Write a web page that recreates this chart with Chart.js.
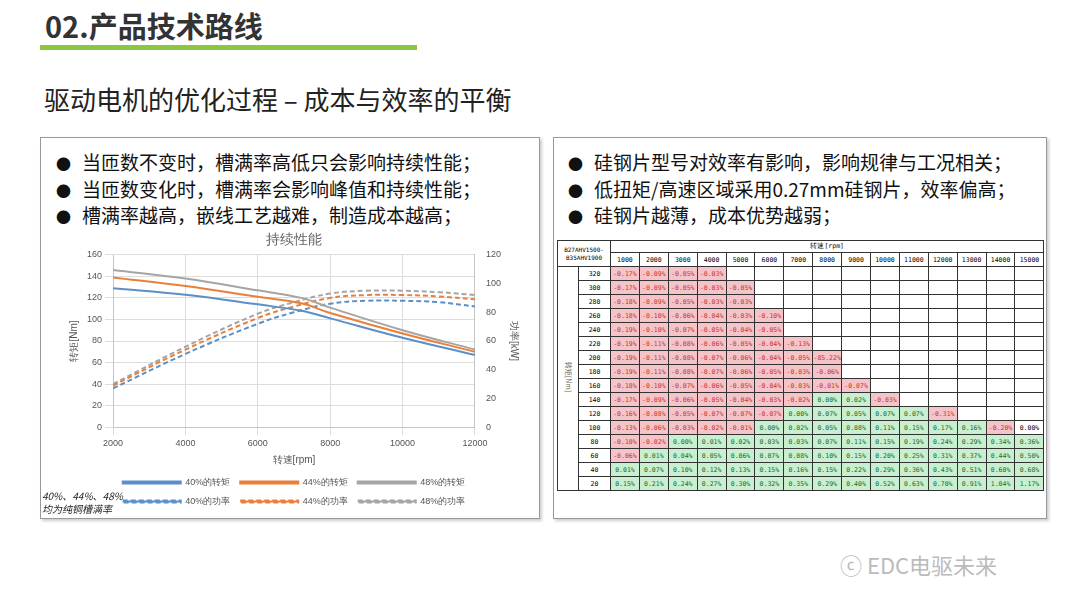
<!DOCTYPE html>
<html>
<head>
<meta charset="utf-8">
<script src="https://cdn.jsdelivr.net/npm/chart.js@4/dist/chart.umd.min.js"></script>
<style>
	body { margin: 0; width: 1080px; height: 608px; background: #fff; font-family: "Noto Sans CJK SC", "Noto Sans", sans-serif; position: relative; overflow: hidden; }
	.abs { position: absolute; }
	.title { left: 45px; top: 4px; font-size: 29px; font-weight: bold; color: #333; }
	.bar { left: 40px; top: 45px; width: 377px; height: 5px; background: #8dc63f; }
	.sub { left: 44px; top: 80px; font-size: 26px; color: #222; }
	.panel { border: 1px solid #999; box-shadow: 2px 2px 3px #ccc; background: #fff; }
	ul { margin: 0; padding: 0; list-style: none; }
	li { font-size: 19px; line-height: 24.5px; color: #111; }
	li:before { content: "●"; display: inline-block; width: 34px; font-size: 15px; padding-left: 8px; box-sizing: border-box; }
	table { border-collapse: collapse; font-family: "DejaVu Sans Mono", monospace; font-size: 6.5px; table-layout: fixed; }
	td { border: 1px solid #333; height: 13px; padding: 0; text-align: center; white-space: nowrap; overflow: hidden; }
	.neg { background: #f6c3c9; color: #c0392b; }
	.pos { background: #c8efcf; color: #1d6b2e; }
	.note { left: 42px; top: 489px; font-size: 10px; font-style: italic; color: #222; line-height: 13px; }
	.wm { left: 840px; top: 548px; font-size: 22px; color: #bbb; }
</style>
</head>
<body>
<div class="abs title">02.产品技术路线</div>
<div class="abs bar"></div>
<div class="abs sub">驱动电机的优化过程 – 成本与效率的平衡</div>

<div class="abs panel" style="left:40px;top:137px;width:498px;height:380px;"></div>
<div class="abs panel" style="left:553px;top:137px;width:492px;height:380px;"></div>

<ul class="abs" style="left:48px;top:150px;">
	<li>当匝数不变时，槽满率高低只会影响持续性能；</li>
	<li>当匝数变化时，槽满率会影响峰值和持续性能；</li>
	<li>槽满率越高，嵌线工艺越难，制造成本越高；</li>
</ul>
<ul class="abs" style="left:560px;top:150px;">
	<li>硅钢片型号对效率有影响，影响规律与工况相关；</li>
	<li>低扭矩/高速区域采用0.27mm硅钢片，效率偏高；</li>
	<li>硅钢片越薄，成本优势越弱；</li>
</ul>

<div class="abs" style="left:64px;top:232px;width:460px;height:284px;">
	<canvas id="lc"></canvas>
</div>
<div class="abs note">40%、44%、48%<br>均为纯铜槽满率</div>

<div class="abs" id="tbl" style="left:557px;top:240px;"></div>
<div class="abs" style="left:554px;top:372px;font-size:7px;color:#666;transform:rotate(90deg);">转矩[Nm]</div>

<div class="abs wm">ⓒ EDC电驱未来</div>

<script>
// torque curves (Nm)
const rpmT = [2000, 4000, 6000, 7200, 8000, 10000, 12000];
const torque40 = [129, 123, 114, 108, 101, 83, 67];
const torque44 = [139, 131, 121, 115, 106, 87, 70];
const torque48 = [146, 138, 127, 120, 111, 90, 72];
// power curves (kW)
const rpmP = [2000, 4000, 6000, 7000, 8000, 9000, 10000, 11000, 12000];
const power40 = [27, 51, 72, 80, 86, 88, 88, 87, 84];
const power44 = [29, 54, 76, 84, 90, 92, 92, 91, 89];
const power48 = [30, 56, 79, 87, 93, 95, 95, 94, 92];

// efficiency difference table (%)
const speedCols = [1000, 2000, 3000, 4000, 5000, 6000, 7000, 8000, 9000, 10000, 11000, 12000, 13000, 14000, 15000];
const torqueRows = [320, 300, 280, 260, 240, 220, 200, 180, 160, 140, 120, 100, 80, 60, 40, 20];
const effDiff = [
	[-0.17, -0.09, -0.05, -0.03],
	[-0.17, -0.09, -0.05, -0.03, -0.05],
	[-0.18, -0.09, -0.05, -0.03, -0.03],
	[-0.18, -0.10, -0.06, -0.04, -0.03, -0.10],
	[-0.19, -0.10, -0.07, -0.05, -0.04, -0.05],
	[-0.19, -0.11, -0.08, -0.06, -0.05, -0.04, -0.13],
	[-0.19, -0.11, -0.08, -0.07, -0.06, -0.04, -0.05, -85.22],
	[-0.19, -0.11, -0.08, -0.07, -0.06, -0.05, -0.03, -0.06],
	[-0.18, -0.10, -0.07, -0.06, -0.05, -0.04, -0.03, -0.01, -0.07],
	[-0.17, -0.09, -0.06, -0.05, -0.04, -0.03, -0.02, 0.00, 0.02, -0.03],
	[-0.16, -0.08, -0.05, -0.07, -0.07, -0.07, 0.00, 0.07, 0.05, 0.07, 0.07, -0.31],
	[-0.13, -0.06, -0.03, -0.02, -0.01, 0.00, 0.02, 0.05, 0.08, 0.11, 0.15, 0.17, 0.16, -0.20, 0.00],
	[-0.10, -0.02, 0.00, 0.01, 0.02, 0.03, 0.03, 0.07, 0.11, 0.15, 0.19, 0.24, 0.29, 0.34, 0.36],
	[-0.06, 0.01, 0.04, 0.05, 0.06, 0.07, 0.08, 0.10, 0.15, 0.20, 0.25, 0.31, 0.37, 0.44, 0.50],
	[0.01, 0.07, 0.10, 0.12, 0.13, 0.15, 0.16, 0.15, 0.22, 0.29, 0.36, 0.43, 0.51, 0.60, 0.68],
	[0.15, 0.21, 0.24, 0.27, 0.30, 0.32, 0.35, 0.29, 0.40, 0.52, 0.63, 0.70, 0.91, 1.04, 1.17]
];

const pts = (xs, ys) => xs.map((x, i) => ({ x: x, y: ys[i] }));
const blue = "#5b8fc7", orange = "#e8803a", grey = "#a5a5a5";
const line = (label, xs, ys, color, axis, dashed) => ({
	label: label,
	data: pts(xs, ys),
	borderColor: color,
	backgroundColor: color,
	borderWidth: 2,
	borderDash: dashed ? [5, 3] : [],
	pointRadius: 0,
	tension: 0.4,
	yAxisID: axis,
});

new Chart(document.getElementById("lc"), {
	type: "line",
	data: {
		datasets: [
			line("40%的转矩", rpmT, torque40, blue, "y", false),
			line("44%的转矩", rpmT, torque44, orange, "y", false),
			line("48%的转矩", rpmT, torque48, grey, "y", false),
			line("40%的功率", rpmP, power40, blue, "y1", true),
			line("44%的功率", rpmP, power44, orange, "y1", true),
			line("48%的功率", rpmP, power48, grey, "y1", true),
		],
	},
	options: {
		responsive: true,
		maintainAspectRatio: false,
		animation: false,
		layout: { padding: 0 },
		scales: {
			x: {
				type: "linear", min: 2000, max: 12000,
				ticks: { stepSize: 2000, color: "#555", font: { size: 9 }, callback: (v) => String(v) },
				grid: { color: "#ddd" },
				title: { display: true, text: "转速[rpm]", color: "#555", font: { size: 10 }, padding: 2 },
			},
			y: {
				min: 0, max: 160,
				ticks: { stepSize: 20, color: "#555", font: { size: 9 } },
				grid: { color: "#ddd" },
				title: { display: true, text: "转矩[Nm]", color: "#555", font: { size: 10 } },
			},
			y1: {
				position: "right", min: 0, max: 120,
				ticks: { stepSize: 20, color: "#555", font: { size: 9 } },
				grid: { display: false },
				title: { display: true, text: "功率[kW]", color: "#555", font: { size: 10 } },
			},
		},
		plugins: {
			title: { display: true, text: "持续性能", color: "#666", font: { size: 14, weight: "normal" }, padding: { top: 0, bottom: 6 } },
			legend: {
				position: "bottom",
				labels: { boxWidth: 58, boxHeight: 2, color: "#555", font: { size: 9 }, padding: 10 },
			},
			tooltip: { enabled: false },
		},
	},
});

// build the table
let html = '<table style="width:486px"><colgroup><col style="width:21px"><col style="width:32px">';
speedCols.forEach(() => (html += '<col style="width:28.9px">'));
html += "</colgroup>";
html += '<tr><td colspan="2" rowspan="2" style="font-size:6px;line-height:8px">B27AHV1500-<br>B35AHV1900</td><td colspan="15" style="height:11px">转速[rpm]</td></tr><tr>';
speedCols.forEach((s) => (html += "<td>" + s + "</td>"));
html += "</tr>";
torqueRows.forEach((t, r) => {
	html += "<tr>";
	if (r === 0) html += '<td rowspan="' + torqueRows.length + '"></td>';
	html += "<td>" + t + "</td>";
	speedCols.forEach((s, c) => {
		const v = effDiff[r][c];
		if (v === undefined) html += "<td></td>";
		else {
			const white = r === 11 && c === 14;
			const cls = white ? "" : v < 0 ? "neg" : "pos";
			html += '<td class="' + cls + '">' + v.toFixed(2) + "%</td>";
		}
	});
	html += "</tr>";
});
html += "</table>";
document.getElementById("tbl").innerHTML = html;
</script>
</body>
</html>
